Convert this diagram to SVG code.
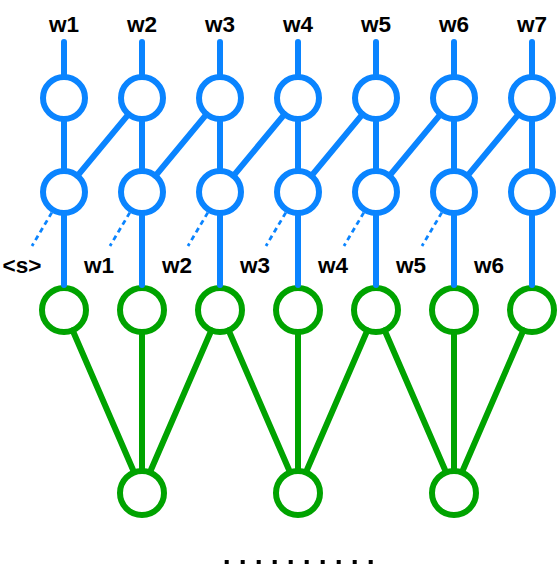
<svg xmlns="http://www.w3.org/2000/svg" width="559" height="578" viewBox="0 0 559 578">
<style>
.b{fill:#fff;stroke:#0A84FF;stroke-width:6}
.g{fill:#fff;stroke:#00A300;stroke-width:6}
.bl{stroke:#0A84FF;stroke-width:6;stroke-linecap:round;fill:none}
.gl{stroke:#00A300;stroke-width:6;stroke-linecap:round;fill:none}
.dl{stroke:#0A84FF;stroke-width:2.8;stroke-dasharray:5 4;fill:none}
text{font-family:"Liberation Sans",Arial,sans-serif;font-weight:bold;font-size:22.5px;fill:#000;text-anchor:middle}
.dot{fill:#000}
</style>
<rect width="559" height="578" fill="#fff"/>
<g id="labels-top">
<text x="64" y="31.5">w1</text><text x="142" y="31.5">w2</text><text x="220" y="31.5">w3</text><text x="298" y="31.5">w4</text><text x="376" y="31.5">w5</text><text x="454" y="31.5">w6</text><text x="532" y="31.5">w7</text>
</g>
<g id="labels-bottom">
<text x="22" y="273">&lt;s&gt;</text><text x="99" y="273">w1</text><text x="177" y="273">w2</text><text x="255" y="273">w3</text><text x="333" y="273">w4</text><text x="411" y="273">w5</text><text x="489" y="273">w6</text>
</g>
<g id="top-nodes">
<g id="t1"><circle class="b" cx="64" cy="98" r="21"/></g>
<g id="t2"><circle class="b" cx="142" cy="98" r="21"/></g>
<g id="t3"><circle class="b" cx="220" cy="98" r="21"/></g>
<g id="t4"><circle class="b" cx="298" cy="98" r="21"/></g>
<g id="t5"><circle class="b" cx="376" cy="98" r="21"/></g>
<g id="t6"><circle class="b" cx="454" cy="98" r="21"/></g>
<g id="t7"><circle class="b" cx="532" cy="98" r="21"/></g>
</g>
<g id="mid-nodes">
<g id="m1"><circle class="b" cx="64" cy="192" r="21"/></g>
<g id="m2"><circle class="b" cx="142" cy="192" r="21"/></g>
<g id="m3"><circle class="b" cx="220" cy="192" r="21"/></g>
<g id="m4"><circle class="b" cx="298" cy="192" r="21"/></g>
<g id="m5"><circle class="b" cx="376" cy="192" r="21"/></g>
<g id="m6"><circle class="b" cx="454" cy="192" r="21"/></g>
<g id="m7"><circle class="b" cx="532" cy="192" r="21"/></g>
</g>
<g id="green-nodes">
<g id="e1"><circle class="g" cx="64" cy="310" r="22"/></g>
<g id="e2"><circle class="g" cx="142" cy="310" r="22"/></g>
<g id="e3"><circle class="g" cx="220" cy="310" r="22"/></g>
<g id="e4"><circle class="g" cx="298" cy="310" r="22"/></g>
<g id="e5"><circle class="g" cx="376" cy="310" r="22"/></g>
<g id="e6"><circle class="g" cx="454" cy="310" r="22"/></g>
<g id="e7"><circle class="g" cx="532" cy="310" r="22"/></g>
</g>
<g id="bottom-nodes">
<g id="p1"><circle class="g" cx="142" cy="493" r="22"/></g>
<g id="p2"><circle class="g" cx="298" cy="493" r="22"/></g>
<g id="p3"><circle class="g" cx="454" cy="493" r="22"/></g>
</g>
<g id="connectors">
<g id="input-lines">
<line class="bl" x1="64" y1="42" x2="64" y2="77"/><line class="bl" x1="142" y1="42" x2="142" y2="77"/><line class="bl" x1="220" y1="42" x2="220" y2="77"/><line class="bl" x1="298" y1="42" x2="298" y2="77"/><line class="bl" x1="376" y1="42" x2="376" y2="77"/><line class="bl" x1="454" y1="42" x2="454" y2="77"/><line class="bl" x1="532" y1="42" x2="532" y2="77"/>
</g>
<g id="vertical-lines">
<line class="bl" x1="64" y1="119" x2="64" y2="171"/><line class="bl" x1="142" y1="119" x2="142" y2="171"/><line class="bl" x1="220" y1="119" x2="220" y2="171"/><line class="bl" x1="298" y1="119" x2="298" y2="171"/><line class="bl" x1="376" y1="119" x2="376" y2="171"/><line class="bl" x1="454" y1="119" x2="454" y2="171"/><line class="bl" x1="532" y1="119" x2="532" y2="171"/>
</g>
<g id="diagonal-lines">
<line class="bl" x1="128.6" y1="114.2" x2="77.4" y2="175.8"/><line class="bl" x1="206.6" y1="114.2" x2="155.4" y2="175.8"/><line class="bl" x1="284.6" y1="114.2" x2="233.4" y2="175.8"/><line class="bl" x1="362.6" y1="114.2" x2="311.4" y2="175.8"/><line class="bl" x1="440.6" y1="114.2" x2="389.4" y2="175.8"/><line class="bl" x1="518.6" y1="114.2" x2="467.4" y2="175.8"/>
</g>
<g id="dashed-lines">
<line class="dl" x1="51.8" y1="212.6" x2="32" y2="246"/><line class="dl" x1="129.8" y1="212.6" x2="110" y2="246"/><line class="dl" x1="207.8" y1="212.6" x2="188" y2="246"/><line class="dl" x1="285.8" y1="212.6" x2="266" y2="246"/><line class="dl" x1="363.8" y1="212.6" x2="344" y2="246"/><line class="dl" x1="441.8" y1="212.6" x2="422" y2="246"/>
</g>
<g id="blue-green-lines">
<line class="bl" x1="64" y1="213" x2="64" y2="285"/><line class="bl" x1="142" y1="213" x2="142" y2="285"/><line class="bl" x1="220" y1="213" x2="220" y2="285"/><line class="bl" x1="298" y1="213" x2="298" y2="285"/><line class="bl" x1="376" y1="213" x2="376" y2="285"/><line class="bl" x1="454" y1="213" x2="454" y2="285"/><line class="bl" x1="532" y1="213" x2="532" y2="285"/>
</g>
<g id="green-lines">
<line class="gl" x1="72.6" y1="330.2" x2="133.4" y2="470.8"/><line class="gl" x1="142" y1="332" x2="142" y2="471"/><line class="gl" x1="211.4" y1="330.2" x2="150.6" y2="470.8"/>
<line class="gl" x1="228.6" y1="330.2" x2="289.4" y2="470.8"/><line class="gl" x1="298" y1="332" x2="298" y2="471"/><line class="gl" x1="367.4" y1="330.2" x2="306.6" y2="470.8"/>
<line class="gl" x1="384.6" y1="330.2" x2="445.4" y2="470.8"/><line class="gl" x1="454" y1="332" x2="454" y2="471"/><line class="gl" x1="523.4" y1="330.2" x2="462.6" y2="470.8"/>
</g>
</g>
<g id="ellipsis">
<rect class="dot" x="224.7" y="560" width="4" height="4"/><rect class="dot" x="240.7" y="560" width="4" height="4"/><rect class="dot" x="256.7" y="560" width="4" height="4"/><rect class="dot" x="272.7" y="560" width="4" height="4"/><rect class="dot" x="288.7" y="560" width="4" height="4"/><rect class="dot" x="304.7" y="560" width="4" height="4"/><rect class="dot" x="320.7" y="560" width="4" height="4"/><rect class="dot" x="336.7" y="560" width="4" height="4"/><rect class="dot" x="352.7" y="560" width="4" height="4"/><rect class="dot" x="368.7" y="560" width="4" height="4"/>
</g>
</svg>
